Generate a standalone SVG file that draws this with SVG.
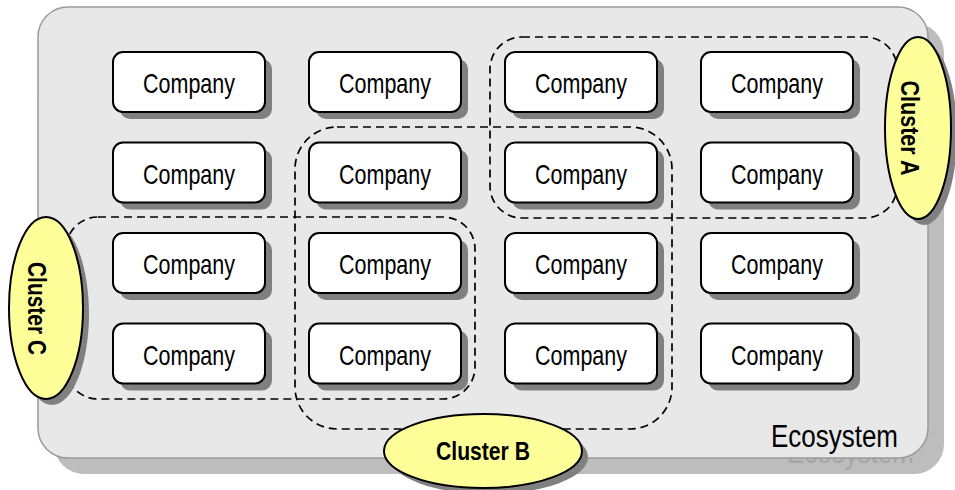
<svg xmlns="http://www.w3.org/2000/svg" width="955" height="490" viewBox="0 0 955 490">
<defs>
<style>
.eco{fill:#e8e8e8;stroke:#9a9a9a;stroke-width:1.5}
.ecos{fill:#bdbdbd}
.box{fill:#ffffff;stroke:#000;stroke-width:2}
.bsh{fill:#808080}
.ct{font-family:"Liberation Sans Narrow","Liberation Sans",Arial,sans-serif;font-size:28px;fill:#000;text-anchor:middle}
.cl{fill:none;stroke:#000;stroke-width:1.7;stroke-dasharray:8 5}
.ell{fill:#ffff99;stroke:#000;stroke-width:2}
.esh{fill:#808080}
.lt{font-family:"Liberation Sans Narrow","Liberation Sans",Arial,sans-serif;font-weight:bold;font-size:25px;fill:#000;text-anchor:middle}
.et{font-family:"Liberation Sans Narrow","Liberation Sans",Arial,sans-serif;font-size:31px;text-anchor:end}
</style>
<clipPath id="below"><rect x="0" y="458" width="955" height="32"/></clipPath>
</defs>
<g id="ecosystem">
<rect class="ecos" x="54" y="23" width="890" height="451" rx="30"/>
<text class="et" x="914" y="463" fill="#a6a6a6" clip-path="url(#below)" textLength="127" lengthAdjust="spacingAndGlyphs">Ecosystem</text>
<rect class="eco" x="38" y="7" width="890" height="451" rx="30"/>
<text class="et" x="898" y="447" fill="#000" textLength="127" lengthAdjust="spacingAndGlyphs">Ecosystem</text>
</g>
<g id="companies">
<g id="c11"><rect class="bsh" x="120" y="59" width="152" height="60" rx="10"/><rect class="box" x="113" y="52" width="152" height="60" rx="10"/><text class="ct" x="189" y="93" textLength="92" lengthAdjust="spacingAndGlyphs">Company</text></g>
<g id="c12"><rect class="bsh" x="316" y="59" width="152" height="60" rx="10"/><rect class="box" x="309" y="52" width="152" height="60" rx="10"/><text class="ct" x="385" y="93" textLength="92" lengthAdjust="spacingAndGlyphs">Company</text></g>
<g id="c13"><rect class="bsh" x="512" y="59" width="152" height="60" rx="10"/><rect class="box" x="505" y="52" width="152" height="60" rx="10"/><text class="ct" x="581" y="93" textLength="92" lengthAdjust="spacingAndGlyphs">Company</text></g>
<g id="c14"><rect class="bsh" x="708" y="59" width="152" height="60" rx="10"/><rect class="box" x="701" y="52" width="152" height="60" rx="10"/><text class="ct" x="777" y="93" textLength="92" lengthAdjust="spacingAndGlyphs">Company</text></g>
<g id="c21"><rect class="bsh" x="120" y="149.5" width="152" height="60" rx="10"/><rect class="box" x="113" y="142.5" width="152" height="60" rx="10"/><text class="ct" x="189" y="183.5" textLength="92" lengthAdjust="spacingAndGlyphs">Company</text></g>
<g id="c22"><rect class="bsh" x="316" y="149.5" width="152" height="60" rx="10"/><rect class="box" x="309" y="142.5" width="152" height="60" rx="10"/><text class="ct" x="385" y="183.5" textLength="92" lengthAdjust="spacingAndGlyphs">Company</text></g>
<g id="c23"><rect class="bsh" x="512" y="149.5" width="152" height="60" rx="10"/><rect class="box" x="505" y="142.5" width="152" height="60" rx="10"/><text class="ct" x="581" y="183.5" textLength="92" lengthAdjust="spacingAndGlyphs">Company</text></g>
<g id="c24"><rect class="bsh" x="708" y="149.5" width="152" height="60" rx="10"/><rect class="box" x="701" y="142.5" width="152" height="60" rx="10"/><text class="ct" x="777" y="183.5" textLength="92" lengthAdjust="spacingAndGlyphs">Company</text></g>
<g id="c31"><rect class="bsh" x="120" y="240" width="152" height="60" rx="10"/><rect class="box" x="113" y="233" width="152" height="60" rx="10"/><text class="ct" x="189" y="274" textLength="92" lengthAdjust="spacingAndGlyphs">Company</text></g>
<g id="c32"><rect class="bsh" x="316" y="240" width="152" height="60" rx="10"/><rect class="box" x="309" y="233" width="152" height="60" rx="10"/><text class="ct" x="385" y="274" textLength="92" lengthAdjust="spacingAndGlyphs">Company</text></g>
<g id="c33"><rect class="bsh" x="512" y="240" width="152" height="60" rx="10"/><rect class="box" x="505" y="233" width="152" height="60" rx="10"/><text class="ct" x="581" y="274" textLength="92" lengthAdjust="spacingAndGlyphs">Company</text></g>
<g id="c34"><rect class="bsh" x="708" y="240" width="152" height="60" rx="10"/><rect class="box" x="701" y="233" width="152" height="60" rx="10"/><text class="ct" x="777" y="274" textLength="92" lengthAdjust="spacingAndGlyphs">Company</text></g>
<g id="c41"><rect class="bsh" x="120" y="330.5" width="152" height="60" rx="10"/><rect class="box" x="113" y="323.5" width="152" height="60" rx="10"/><text class="ct" x="189" y="364.5" textLength="92" lengthAdjust="spacingAndGlyphs">Company</text></g>
<g id="c42"><rect class="bsh" x="316" y="330.5" width="152" height="60" rx="10"/><rect class="box" x="309" y="323.5" width="152" height="60" rx="10"/><text class="ct" x="385" y="364.5" textLength="92" lengthAdjust="spacingAndGlyphs">Company</text></g>
<g id="c43"><rect class="bsh" x="512" y="330.5" width="152" height="60" rx="10"/><rect class="box" x="505" y="323.5" width="152" height="60" rx="10"/><text class="ct" x="581" y="364.5" textLength="92" lengthAdjust="spacingAndGlyphs">Company</text></g>
<g id="c44"><rect class="bsh" x="708" y="330.5" width="152" height="60" rx="10"/><rect class="box" x="701" y="323.5" width="152" height="60" rx="10"/><text class="ct" x="777" y="364.5" textLength="92" lengthAdjust="spacingAndGlyphs">Company</text></g>
</g>
<g id="cluster-areas">
<rect class="cl" x="490" y="37" width="407" height="181" rx="32"/>
<rect class="cl" x="295" y="127" width="377" height="302" rx="42"/>
<rect class="cl" x="66" y="217" width="409" height="182" rx="32"/>
</g>
<g id="clusterA">
<ellipse class="esh" cx="924" cy="134" rx="33" ry="91"/>
<ellipse class="ell" cx="918" cy="128" rx="33" ry="91"/>
<text class="lt" transform="translate(910 128) rotate(90)" y="9" textLength="95" lengthAdjust="spacingAndGlyphs">Cluster A</text>
</g>
<g id="clusterB">
<ellipse class="esh" cx="489" cy="457" rx="99" ry="37"/>
<ellipse class="ell" cx="483" cy="451" rx="99" ry="37"/>
<text class="lt" x="483" y="459.5" textLength="94" lengthAdjust="spacingAndGlyphs">Cluster B</text>
</g>
<g id="clusterC">
<ellipse class="esh" cx="52" cy="314" rx="37" ry="91"/>
<ellipse class="ell" cx="46" cy="308" rx="37" ry="91"/>
<text class="lt" transform="translate(37 308.5) rotate(90)" y="9" textLength="93" lengthAdjust="spacingAndGlyphs">Cluster C</text>
</g>
</svg>
